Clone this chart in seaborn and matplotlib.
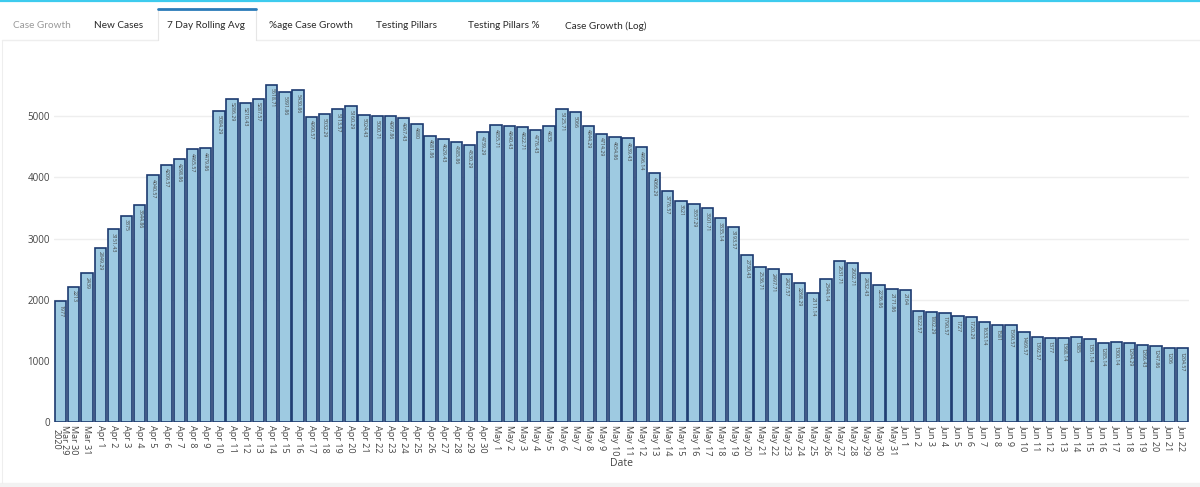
import pandas as pd
import matplotlib.pyplot as plt
import seaborn as sns
from matplotlib.lines import Line2D
from matplotlib.patches import Rectangle

# 7 day rolling average of new cases
dates = pd.date_range("2020-03-29", "2020-06-22", freq="D")
rolling_avg = [
    1977, 2213, 2439,
    2849.29, 3151.43, 3375, 3544.86, 4040.57, 4209.57, 4298.86, 4465.57, 4479.86, 5084.29,
    5286.29, 5210.43, 5287.57, 5518.71, 5391.86, 5430.86, 4990.57, 5032.29, 5113.57, 5160.29,
    5024.43, 5000.71, 4997.86, 4967.43, 4880, 4681.86, 4629.43, 4585.86, 4530.29, 4739.29,
    4855.71, 4840.43, 4822.71, 4776.43, 4835, 5125.71, 5066, 4844.29, 4714.29, 4654.86,
    4639.43, 4496.14, 4066.29, 3776.57, 3621, 3557.29, 3501.71, 3335.14, 3193.57, 2730.43,
    2536.71, 2497.71, 2427.57, 2268.29, 2111.14, 2344.14, 2631.71, 2602.71, 2432.43, 2236.86,
    2171.86,
    2164, 1822.57, 1802.29, 1790.57, 1727, 1720.29, 1633.14, 1581, 1590.57, 1469.57,
    1392.57, 1377, 1368.14, 1385, 1351.14, 1285.14, 1300.14, 1294.29, 1266.43, 1247.86,
    1206, 1204.57,
]
tick_labels = [d.strftime("%b ") + str(d.day) for d in dates]
tick_labels[0] = tick_labels[0] + "\n2020"
tabs = ["Case Growth", "New Cases", "7 Day Rolling Avg", "%age Case Growth",
        "Testing Pillars", "Testing Pillars %", "Case Growth (Log)"]
tab_x = [42, 119, 206, 311, 407, 504, 606]

data = pd.DataFrame({"Date": tick_labels, "avg": rolling_avg})

sns.set_style("white")
plt.rcParams["font.family"] = ["Open Sans", "DejaVu Sans"]

W, H = 1200, 487
fig = plt.figure(figsize=(12, 4.87), dpi=100)
ax = fig.add_axes([54 / W, (H - 422) / H, 1135 / W, 354.3 / H])

sns.barplot(data=data, x="Date", y="avg", color="#9ecae1", saturation=1,
            edgecolor="#1c3a70", linewidth=1.2, width=0.86, ax=ax)

ax.set_ylim(0, 5794)
ax.set_xlim(-0.5, len(tick_labels) - 0.5)
ax.set_yticks([0, 1000, 2000, 3000, 4000, 5000])
ax.yaxis.grid(True, color="#eeeeee", linewidth=1)
ax.set_axisbelow(True)
for s in ax.spines.values():
    s.set_visible(False)
ax.tick_params(axis="x", labelsize=6.5, labelcolor="#444444", length=0, pad=2)
ax.tick_params(axis="y", labelsize=7, labelcolor="#444444", length=0, pad=3)
ax.set_xticks(range(len(tick_labels)))
ax.set_xticklabels(tick_labels, rotation=-90, va="top", ha="center", linespacing=0.9)
ax.set_xlabel("Date", fontsize=7.5, color="#444444", labelpad=2)
ax.set_ylabel("")

# value labels inside top of bars
for bar, v in zip(ax.containers[0], rolling_avg):
    ax.text(bar.get_x() + bar.get_width() / 2, v - 60, "%g" % v, rotation=-90,
            ha="center", va="top", fontsize=3.8, color="#444444")

# dash style tab bar
def fx(x):
    return x / W

def fy(y):
    return 1 - y / H

fig.add_artist(Line2D([0, 1], [fy(0.8), fy(0.8)], color="#3dcbee", linewidth=1.6,
                      transform=fig.transFigure))
fig.add_artist(Line2D([fx(2), fx(158)], [fy(40), fy(40)], color="#eeeeee", linewidth=1,
                      transform=fig.transFigure))
fig.add_artist(Line2D([fx(256), fx(1200)], [fy(40), fy(40)], color="#eeeeee", linewidth=1,
                      transform=fig.transFigure))
fig.add_artist(Line2D([fx(158), fx(158), fx(256), fx(256)], [fy(40), fy(9), fy(9), fy(40)],
                      color="#e6e6e6", linewidth=0.8, transform=fig.transFigure))
fig.add_artist(Line2D([fx(158), fx(256)], [fy(9), fy(9)], color="#2b7bb9", linewidth=2,
                      transform=fig.transFigure))
for name, x in zip(tabs, tab_x):
    fig.text(fx(x), fy(26), name, ha="center", va="center", fontsize=7.2,
             family=["Lato", "DejaVu Sans"],
             color="#999999" if name == "Case Growth" else "#2a2a2a")

# panel frame
fig.add_artist(Line2D([fx(1.5), fx(1.5)], [fy(40), fy(483)], color="#eeeeee", linewidth=0.8,
                      transform=fig.transFigure))
fig.add_artist(Rectangle((0, 0), 1, 4 / H, color="#f2f2f2", transform=fig.transFigure))

fig.savefig("out.png", dpi=100)
